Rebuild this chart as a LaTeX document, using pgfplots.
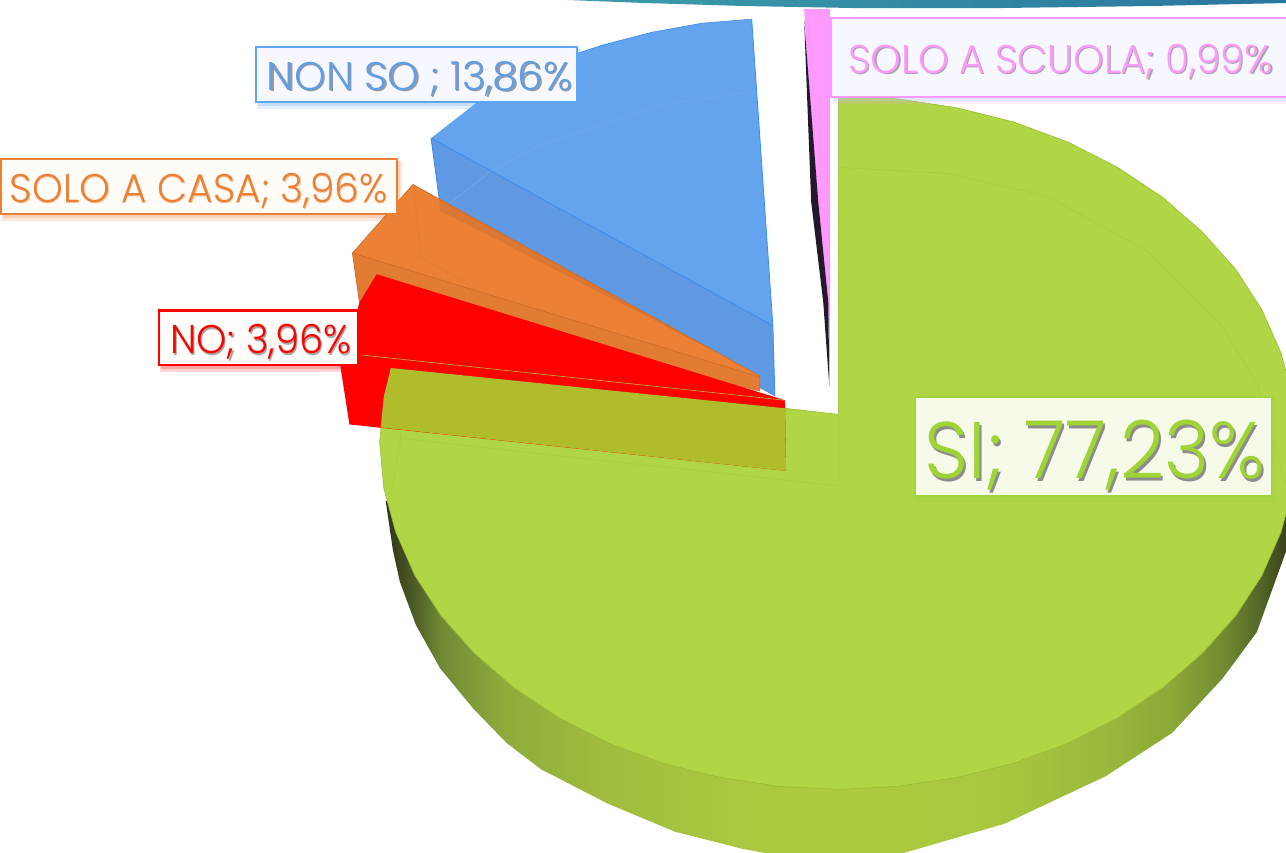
\documentclass[border=0pt]{standalone}
\usepackage{fontspec}
\setmainfont{Poppins Light}
\usepackage{pgfplots}
\pgfplotsset{compat=1.18}
\definecolor{gtop}{HTML}{B0D645}
\definecolor{grim}{HTML}{8FB030}
\definecolor{gin}{HTML}{A6CE3E}
\definecolor{gs0}{HTML}{2F3418}
\definecolor{gs1}{HTML}{4D5A25}
\definecolor{gs2}{HTML}{6F8A33}
\definecolor{gs3}{HTML}{8FAC3B}
\definecolor{gs4}{HTML}{A0BD3E}
\definecolor{gs5}{HTML}{A9C83F}
\definecolor{gs6}{HTML}{ABCB3F}
\definecolor{gs7}{HTML}{A8C73F}
\definecolor{gs8}{HTML}{9AB83C}
\definecolor{gs9}{HTML}{8CA838}
\definecolor{gs10}{HTML}{728C30}
\definecolor{gs11}{HTML}{566A28}
\definecolor{bar1}{HTML}{3B9DAA}
\definecolor{bar2}{HTML}{2A759F}
\definecolor{blu}{HTML}{64A4EE}
\definecolor{blud}{HTML}{6099E3}
\definecolor{blul}{HTML}{3C8CEF}
\definecolor{bluf}{HTML}{6FAAF0}
\definecolor{ora}{HTML}{EC8035}
\definecolor{orad}{HTML}{DC7733}
\definecolor{oral}{HTML}{C96E2B}
\definecolor{oraf}{HTML}{E37C33}
\definecolor{oli}{HTML}{AFBC2B}
\definecolor{pnk}{HTML}{FF99FF}
\definecolor{nero}{HTML}{221A2C}
\definecolor{lbb}{HTML}{5FA5F5}
\definecolor{ltb}{HTML}{5F9EE8}
\definecolor{lgb}{HTML}{A4D43C}
\definecolor{ltg}{HTML}{A0D434}
\pgfdeclarehorizontalshading{greenside}{100bp}{
 color(0bp)=(gs0); color(25bp)=(gs0); color(26.5bp)=(gs1); color(28bp)=(gs2); color(31.6bp)=(gs3);
 color(37.2bp)=(gs4); color(44bp)=(gs5); color(49.8bp)=(gs6); color(58.6bp)=(gs7); color(64.5bp)=(gs8);
 color(68.1bp)=(gs9); color(70.9bp)=(gs10); color(72.8bp)=(gs11); color(75bp)=(gs0); color(100bp)=(gs0)}
\pgfdeclarehorizontalshading{topbar}{100bp}{
 color(0bp)=(bar1); color(25bp)=(bar1); color(75bp)=(bar2); color(100bp)=(bar2)}
% label: x0 y0 x1 y1 border fill
\newcommand{\lbox}[6]{%
 \fill[#5,opacity=.18] (axis cs:#1+1,#2+2) rectangle (axis cs:#3+5,#4+7);
 \fill[#5,opacity=.22] (axis cs:#1+2,#2+2) rectangle (axis cs:#3+3,#4+4);
 \filldraw[draw=#5,line width=2.2pt,fill=#6] (axis cs:#1,#2) rectangle (axis cs:#3,#4);
}
% text: x baseline width capheight colour shadowcolour shadowoffset text
\newcommand{\ltxt}[8]{%
 \node[anchor=base west,inner sep=0pt,text=#6] at (axis cs:#1+#7,#2+#7) {\resizebox{#3pt}{#4pt}{#8}};
 \node[anchor=base west,inner sep=0pt,text=#5] at (axis cs:#1,#2) {\resizebox{#3pt}{#4pt}{#8}};
}
\begin{document}
\begin{tikzpicture}
\begin{axis}[scale only axis,width=1286pt,height=846pt,xmin=0,xmax=1286,ymin=0,ymax=846,y dir=reverse,
  axis lines=none,ticks=none,clip=true]
% top bar
\addplot[draw=none,shading=topbar] coordinates {(573,0)(650,3)(750,6)(860,8)(1000,8)(1150,6)(1286,3)(1286,0)} --cycle;
% green side
\addplot[draw=none,shading=greenside] coordinates {(393,497)(400,545)(407,577)(423,620)(447,663)(480,703)(513,737)(547,763)(613,797)(680,825)(747,842)(780,848)(842,855)(907,846)(1007,817)(1107,770)(1173,727)(1223,673)(1257,627)(1286,547)(1297,439)(842,439)} --cycle;
% green top
\addplot[draw=grim!70!gtop,line width=.6pt,fill=gtop] coordinates {(842,95)(901,98)(960,107)(1016,121)(1070,141)(1119,166)(1164,196)(1203,230)(1236,267)(1262,307)(1281,350)(1293,394)(1297,439)(1293,484)(1281,528)(1262,571)(1236,611)(1203,648)(1164,682)(1119,712)(1070,737)(1016,757)(960,771)(901,780)(842,783)(783,780)(724,771)(668,757)(614,737)(565,712)(520,682)(481,648)(448,611)(422,571)(403,528)(391,484)(387,439)(391,394)(398,365)(789,405)(842,411)} --cycle;
% green faint inner lines
\addplot[draw=gin,line width=.6pt] coordinates {(842,166)(950,172)(1050,195)(1150,250)(1220,320)(1257,380)(1286,480)};
\addplot[draw=gin,line width=.6pt] coordinates {(842,166)(842,482)(408,435)(398,490)};
\addplot[draw=gin,line width=.6pt] coordinates {(398,365)(408,435)};
% blue
\addplot[draw=none,fill=blu] coordinates {(756,19)(707,23)(657,32)(607,45)(583,53)(483,102)(438,137)(446,197)(447,209)(779,393)(777,323)} --cycle;
\addplot[draw=none,fill=blud] coordinates {(438,137)(777,323)(779,393)(447,209)(446,197)} --cycle;
\addplot[draw=bluf,line width=.6pt] coordinates {(758,91)(673,103)(607,123)(540,147)(497,170)(455,203)};
\addplot[draw=blul,line width=.8pt] coordinates {(438,137)(777,323)};
\addplot[draw=blul,line width=.8pt] coordinates {(438,137)(446,197)};
\addplot[draw=blul,line width=.8pt] coordinates {(756,19)(777,323)(779,393)};
\addplot[draw=blul,line width=.6pt] coordinates {(756,19)(707,23)(657,32)(607,45)(583,53)};
% orange
\addplot[draw=none,fill=ora] coordinates {(420,183)(764,373)(764,388)(367,300)(360,251)} --cycle;
\addplot[draw=none,fill=oraf] coordinates {(360,251)(764,374)(764,388)(367,300)} --cycle;
\addplot[draw=none,fill=orad] coordinates {(446,197)(764,373)(730,354)(447,209)} --cycle;
\addplot[draw=oral,line width=.7pt] coordinates {(360,251)(764,374)(764,388)};
\addplot[draw=oral,line width=.7pt] coordinates {(420,183)(360,251)(367,300)};
\addplot[draw=oral,line width=.7pt] coordinates {(420,183)(764,373)};
\addplot[draw=oraf,line width=.6pt] coordinates {(420,183)(428,255)(540,320)};
\addplot[draw=oraf,line width=.6pt] coordinates {(428,255)(403,278)};
% red
\addplot[draw=none,fill=red] coordinates {(384,272)(789,397)(790,467)(357,421)(348,363)(367,300)} --cycle;
% olive overlap
\addplot[draw=none,fill=oli] coordinates {(398,365)(789,405)(790,467)(388,424)(391,394)} --cycle;
\addplot[draw=oli,line width=.6pt] coordinates {(368,352)(789,397)};
% pink
\addplot[draw=none,fill=pnk] coordinates {(808,9)(833,9)(833,320)(828,300)(815,130)} --cycle;
\addplot[draw=none,fill=nero] coordinates {(808,20)(815,200)(827,300)(833,383)(832,300)(822,200)} --cycle;
\addplot[draw=cyan!50,line width=.5pt] coordinates {(833,9)(833,383)};
% labels
\lbox{264}{47}{583}{101}{lbb}{blue!3!white}
\ltxt{275}{90}{303}{29}{ltb}{black!40}{1.2}{NON SO ; 13,86\%}
\lbox{11.5}{158}{404}{212}{ora}{orange!3!white}
\ltxt{20}{201}{375}{29}{ora}{ora!50}{0.4}{SOLO A CASA; 3,96\%}
\lbox{168}{308}{366}{362}{red}{orange!2!white}
\ltxt{179}{351}{180}{29}{red}{black!35}{1.2}{NO; 3,96\%}
\fill[pnk,opacity=.18] (axis cs:837,20) rectangle (axis cs:1286,103);
\fill[cyan!40,opacity=.3] (axis cs:838,20) rectangle (axis cs:1286,100);
\fill[blue!3!white] (axis cs:835,18) rectangle (axis cs:1286,96);
\draw[pnk,line width=2.2pt] (axis cs:1286,18) -- (axis cs:835,18) -- (axis cs:835,96) -- (axis cs:1286,96);
\ltxt{852}{73}{421}{29}{pnk}{black!35}{1.2}{SOLO A SCUOLA; 0,99\%}
\lbox{918}{394}{1272}{492}{lgb}{gtop!12!white}
\ltxt{927}{475}{338}{58}{ltg}{black!45}{2.2}{SI; 77,23\%}
\end{axis}
\end{tikzpicture}
\end{document}
